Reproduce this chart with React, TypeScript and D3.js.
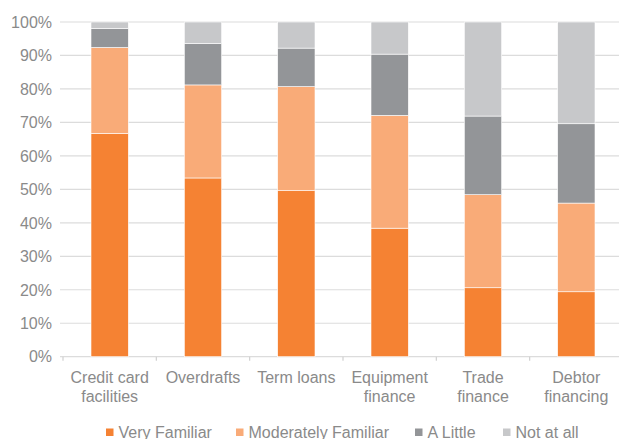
import React, { useEffect, useRef } from "react";
import * as d3 from "d3";

const categories = [
  ["Credit card", "facilities"],
  ["Overdrafts"],
  ["Term loans"],
  ["Equipment", "finance"],
  ["Trade", "finance"],
  ["Debtor", "financing"],
];
const seriesNames = ["Very Familiar", "Moderately Familiar", "A Little", "Not at all"];
const veryFamiliar = [66.7, 53.4, 49.6, 38.4, 20.6, 19.4];
const moderatelyFamiliar = [25.7, 27.8, 31.1, 33.7, 27.8, 26.5];
const aLittle = [5.7, 12.4, 11.5, 18.3, 23.5, 23.7];
const notAtAll = [1.9, 6.4, 7.8, 9.6, 28.1, 30.4];
const yTicks = [0, 10, 20, 30, 40, 50, 60, 70, 80, 90, 100];
const colors = ["#F58233", "#F9AB78", "#939598", "#C7C8CA"];

export default function App() {
  const ref = useRef<SVGSVGElement>(null);
  useEffect(() => {
    const svg = d3.select(ref.current);
    svg.selectAll("*").remove();
    const W = 619, H = 439;
    const left = 63, right = 623, top = 22, bottom = 356.7;
    const font = "'Liberation Sans', Arial, sans-serif";
    const textColor = "#8a8a8a";
    const keys = categories.map((c) => c.join(" "));
    const x = d3.scaleBand().domain(keys).range([left, right]).paddingInner(0.6).paddingOuter(0.3);
    const xb = d3.scaleBand().domain(keys).range([left, right]);
    const y = d3.scaleLinear().domain([0, 100]).range([bottom, top]);

    // gridlines
    svg.append("g").selectAll("line").data(yTicks).join("line")
      .attr("x1", left - 3).attr("x2", W)
      .attr("y1", (d) => y(d)).attr("y2", (d) => y(d))
      .attr("stroke", "#dcdcdc").attr("stroke-width", 1.2);

    // y labels
    svg.append("g").selectAll("text").data(yTicks).join("text")
      .attr("x", 52).attr("y", (d) => y(d)).attr("dy", "0.36em")
      .attr("text-anchor", "end").attr("font-family", font).attr("font-size", 16)
      .attr("fill", textColor).text((d) => d + "%");

    // category ticks
    const tickXs = keys.map((k) => xb(k)!).concat([right]);
    svg.append("g").selectAll("line").data(tickXs).join("line")
      .attr("x1", (d) => d).attr("x2", (d) => d)
      .attr("y1", bottom).attr("y2", bottom + 4)
      .attr("stroke", "#d0d0d0").attr("stroke-width", 1.2);

    const table = keys.map((k, i) => ({
      key: k,
      v0: veryFamiliar[i], v1: moderatelyFamiliar[i], v2: aLittle[i], v3: notAtAll[i],
    }));
    const stack = d3.stack<any>().keys(["v0", "v1", "v2", "v3"]);
    const layers = stack(table);
    svg.append("g").selectAll("g").data(layers).join("g")
      .attr("fill", (_d, i) => colors[i])
      .selectAll("rect").data((d) => d).join("rect")
      .attr("x", (d: any) => x(d.data.key)!)
      .attr("width", x.bandwidth())
      .attr("y", (d) => y(Math.min(100, d[1])))
      .attr("height", (d) => y(d[0]) - y(Math.min(100, d[1])))
      .attr("stroke", "#ffffff").attr("stroke-width", 0.6);

    // category labels
    const lab = svg.append("g");
    categories.forEach((lines, i) => {
      const cx = xb(keys[i])! + xb.bandwidth() / 2;
      lines.forEach((t, j) => {
        lab.append("text").attr("x", cx).attr("y", 383 + j * 18.5)
          .attr("text-anchor", "middle").attr("font-family", font).attr("font-size", 16)
          .attr("fill", textColor).text(t);
      });
    });

    // legend
    const legX = [106, 236, 415, 503];
    const leg = svg.append("g");
    seriesNames.forEach((n, i) => {
      leg.append("rect").attr("x", legX[i]).attr("y", 428.5).attr("width", 7.5).attr("height", 7.5)
        .attr("fill", colors[i]);
      leg.append("text").attr("x", legX[i] + 12.5).attr("y", 437.5)
        .attr("font-family", font).attr("font-size", 16).attr("fill", textColor).text(n);
    });
  }, []);
  return (
    <svg ref={ref} width={619} height={439}
      style={{ position: "absolute", left: 0, top: 0, background: "#fff" }} />
  );
}
